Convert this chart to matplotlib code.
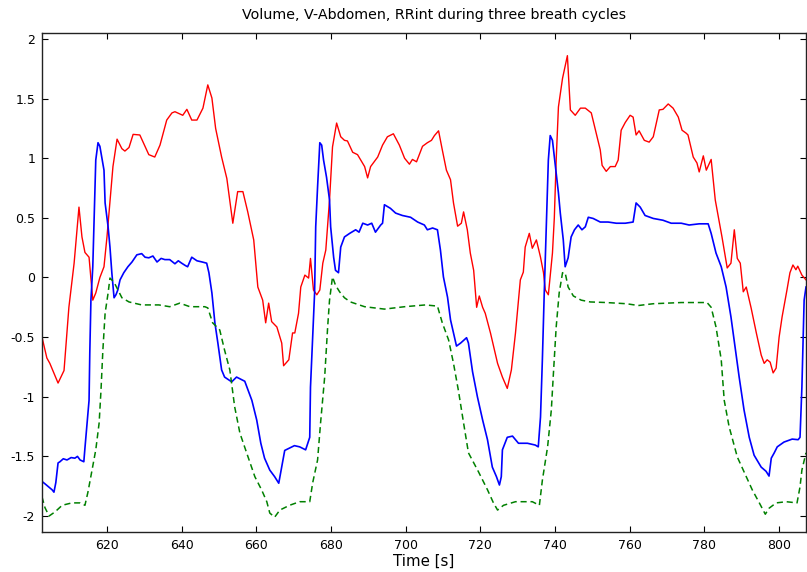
import matplotlib
matplotlib.use("Agg")
import matplotlib.pyplot as plt
from matplotlib.ticker import FuncFormatter

# RRint (red)
t_rr = [602.6, 603.9, 604.7, 606.9, 608.5, 609.8, 611.2, 612.5, 613.3, 614.1, 615.2, 616.2, 617.0, 618.1,
        619.2, 620.0, 621.6, 622.7, 624.0, 624.8, 625.9, 627.0, 628.8, 631.2, 632.8, 634.2, 636.0, 637.4,
        638.2, 640.3, 641.4, 642.7, 644.1, 645.7, 647.0, 648.1, 649.1, 650.7, 652.1, 653.7, 655.0, 656.4,
        657.7, 659.3, 660.4, 661.7, 662.5, 663.3, 664.1, 665.5, 666.8, 667.3, 668.7, 669.7, 670.3, 671.3,
        671.9, 673.0, 674.0, 674.5, 675.3, 676.2, 677.0, 677.8, 678.6, 679.6, 680.4, 681.5, 682.6, 683.6,
        684.4, 685.8, 687.1, 689.0, 689.8, 690.6, 692.5, 693.8, 695.1, 696.7, 698.3, 699.7, 701.0, 701.8,
        702.9, 704.5, 705.8, 706.9, 707.7, 708.8, 709.8, 710.9, 712.0, 712.8, 713.9, 714.9, 715.5, 716.5,
        717.3, 718.2, 719.0, 719.7, 720.6, 721.3, 722.7, 724.6, 725.9, 727.2, 728.3, 729.4, 730.7, 731.5,
        732.0, 733.1, 733.9, 735.0, 736.1, 736.9, 737.4, 738.2, 739.3, 739.8, 740.3, 740.9, 742.0, 743.3,
        744.1, 745.4, 746.8, 748.1, 749.7, 751.0, 752.1, 752.6, 753.7, 754.8, 756.1, 756.9, 757.7, 758.8,
        760.1, 760.9, 761.7, 762.5, 763.9, 765.2, 766.3, 767.9, 768.9, 770.3, 771.6, 773.0, 774.0, 775.1,
        775.6, 777.0, 778.0, 778.6, 779.7, 780.5, 781.8, 782.9, 784.7, 786.1, 787.1, 788.0, 788.8, 789.6,
        790.4, 791.2, 792.5, 793.9, 795.2, 796.0, 796.8, 797.6, 798.4, 799.2, 800.0, 800.8, 802.1, 802.9,
        803.7, 804.5, 805.0, 806.1, 807.2]
rr = [-0.50, -0.675, -0.72, -0.885, -0.78, -0.25, 0.12, 0.59, 0.34, 0.21, 0.17, -0.19, -0.13, 0.0,
      0.09, 0.34, 0.93, 1.16, 1.08, 1.06, 1.09, 1.20, 1.195, 1.03, 1.01, 1.11, 1.32, 1.38,
      1.39, 1.36, 1.41, 1.32, 1.32, 1.42, 1.615, 1.505, 1.25, 1.01, 0.83, 0.455, 0.72, 0.72,
      0.55, 0.315, -0.08, -0.19, -0.38, -0.215, -0.37, -0.415, -0.55, -0.74, -0.69, -0.465, -0.465, -0.30,
      -0.08, 0.02, -0.005, 0.16, -0.105, -0.145, -0.105, 0.12, 0.23, 0.65, 1.095, 1.295, 1.18, 1.15,
      1.145, 1.05, 1.03, 0.93, 0.835, 0.93, 1.01, 1.11, 1.18, 1.205, 1.11, 1.0, 0.95, 0.99,
      0.97, 1.10, 1.13, 1.15, 1.19, 1.23, 1.07, 0.90, 0.82, 0.625, 0.43, 0.455, 0.55, 0.40,
      0.205, 0.06, -0.25, -0.155, -0.25, -0.30, -0.465, -0.72, -0.835, -0.93, -0.775, -0.465, -0.02, 0.045,
      0.255, 0.37, 0.245, 0.315, 0.17, 0.04, -0.105, -0.145, 0.205, 0.50, 0.985, 1.43, 1.67, 1.86,
      1.405, 1.36, 1.42, 1.42, 1.38, 1.21, 1.07, 0.94, 0.89, 0.93, 0.93, 0.985, 1.235, 1.30,
      1.36, 1.345, 1.195, 1.23, 1.15, 1.135, 1.18, 1.405, 1.41, 1.455, 1.42, 1.345, 1.235, 1.21,
      1.195, 1.01, 0.96, 0.885, 1.02, 0.90, 0.99, 0.65, 0.34, 0.08, 0.12, 0.40, 0.16, 0.12,
      -0.12, -0.08, -0.255, -0.465, -0.65, -0.72, -0.69, -0.71, -0.80, -0.76, -0.50, -0.33, -0.105, 0.04,
      0.105, 0.065, 0.095, 0.02, -0.02]

# V-Abdomen (blue)
t_vab = [602.6, 603.4, 605.3, 605.8, 606.3, 606.9, 607.4, 608.3, 609.3, 610.4, 611.4, 612.1, 612.8, 613.8,
         614.1, 614.6, 615.2, 615.4, 615.7, 616.2, 616.5, 616.8, 617.0, 617.6, 618.1, 618.6, 619.2, 619.5,
         620.3, 620.8, 621.3, 621.9, 622.4, 622.9, 623.5, 624.5, 625.6, 626.7, 628.0, 629.3, 630.2, 631.2,
         632.3, 633.4, 634.5, 635.5, 636.8, 638.2, 639.1, 640.0, 641.0, 641.6, 642.7, 644.1, 645.5, 646.7,
         647.3, 648.1, 648.9, 649.7, 650.7, 651.5, 653.4, 654.7, 656.9, 658.8, 660.1, 661.2, 662.2, 663.6,
         664.9, 666.0, 666.8, 667.6, 668.9, 670.2, 671.6, 673.2, 674.3, 674.5, 675.1, 675.6, 675.9, 676.4,
         677.0, 677.5, 678.0, 678.8, 679.6, 679.9, 680.7, 681.2, 682.0, 682.6, 683.6, 685.0, 686.6, 687.5,
         688.5, 689.8, 690.9, 691.9, 693.3, 693.8, 694.3, 695.9, 697.3, 699.1, 701.3, 703.2, 705.0, 705.8,
         707.2, 708.5, 709.3, 710.1, 711.2, 712.0, 712.8, 713.6, 714.7, 716.3, 716.8, 717.9, 719.2, 720.6,
         721.9, 723.2, 724.3, 725.1, 725.6, 725.9, 727.2, 728.6, 730.2, 732.6, 734.7, 735.5, 736.1, 736.6,
         737.1, 737.7, 738.2, 738.7, 739.3, 740.1, 740.9, 741.4, 742.2, 742.7, 743.5, 744.3, 745.2, 746.2,
         747.2, 748.1, 748.9, 750.2, 752.1, 754.2, 756.4, 758.8, 760.9, 761.7, 762.8, 764.1, 766.3, 768.9,
         771.1, 773.8, 775.9, 778.6, 781.0, 781.8, 783.1, 784.5, 785.8, 787.1, 788.2, 789.3, 790.6, 792.0,
         793.3, 795.2, 796.5, 797.3, 797.9, 798.7, 799.5, 801.3, 803.5, 805.1, 805.6, 806.1, 806.7, 807.2]
vab = [-1.71, -1.73, -1.78, -1.80, -1.72, -1.555, -1.545, -1.52, -1.53, -1.51, -1.515, -1.50, -1.53, -1.545,
       -1.43, -1.25, -1.03, -0.63, -0.19, 0.09, 0.425, 0.735, 0.985, 1.13, 1.10, 1.01, 0.90, 0.625,
       0.425, 0.255, 0.04, -0.17, -0.145, -0.105, -0.02, 0.04, 0.09, 0.13, 0.19, 0.20, 0.17, 0.165,
       0.18, 0.13, 0.16, 0.15, 0.15, 0.115, 0.14, 0.12, 0.10, 0.09, 0.17, 0.14, 0.13, 0.12,
       0.04, -0.13, -0.38, -0.55, -0.775, -0.835, -0.875, -0.835, -0.87, -1.03, -1.195, -1.39, -1.515, -1.615,
       -1.67, -1.725, -1.59, -1.45, -1.43, -1.41, -1.42, -1.445, -1.34, -0.92, -0.50, -0.13, 0.425, 0.76,
       1.13, 1.11, 0.985, 0.84, 0.65, 0.425, 0.17, 0.06, 0.04, 0.255, 0.34, 0.37, 0.40, 0.38,
       0.455, 0.44, 0.455, 0.38, 0.44, 0.455, 0.61, 0.58, 0.54, 0.52, 0.505, 0.465, 0.44, 0.40,
       0.415, 0.40, 0.23, 0.005, -0.165, -0.355, -0.465, -0.575, -0.55, -0.505, -0.55, -0.79, -1.0, -1.195,
       -1.36, -1.59, -1.67, -1.74, -1.67, -1.445, -1.34, -1.33, -1.39, -1.39, -1.405, -1.42, -1.17, -0.69,
       -0.13, 0.48, 0.985, 1.19, 1.15, 0.93, 0.71, 0.54, 0.315, 0.09, 0.165, 0.34, 0.40, 0.44,
       0.40, 0.425, 0.505, 0.495, 0.465, 0.465, 0.455, 0.455, 0.465, 0.625, 0.59, 0.52, 0.495, 0.48,
       0.455, 0.455, 0.44, 0.45, 0.45, 0.37, 0.205, 0.09, -0.08, -0.33, -0.58, -0.835, -1.11, -1.34,
       -1.49, -1.59, -1.625, -1.665, -1.515, -1.47, -1.42, -1.38, -1.355, -1.36, -1.34, -0.92, -0.19, -0.08]

# Volume (green, dashed)
t_vol = [602.6, 603.4, 604.5, 606.1, 608.0, 610.6, 612.8, 614.1, 614.9, 616.0, 617.0, 617.9, 618.4, 618.9,
         619.5, 620.3, 620.8, 621.9, 622.7, 624.0, 625.9, 629.3, 633.9, 636.8, 639.5, 642.2, 646.2, 647.0,
         648.3, 650.2, 651.5, 652.9, 654.2, 655.6, 657.4, 659.6, 661.4, 662.8, 663.6, 664.9, 666.3, 668.9,
         671.6, 674.3, 675.1, 676.4, 677.2, 678.3, 679.1, 679.6, 680.4, 681.2, 682.3, 683.6, 685.2, 689.0,
         694.3, 699.7, 705.3, 708.5, 709.8, 711.5, 712.8, 714.1, 715.5, 716.8, 719.5, 721.9, 723.5, 724.6,
         726.2, 729.4, 733.9, 735.8, 736.6, 738.0, 739.0, 739.5, 740.3, 741.1, 742.0, 742.7, 743.5, 744.9,
         747.0, 749.4, 753.7, 759.1, 762.3, 766.3, 773.8, 780.7, 781.8, 783.1, 784.5, 785.3, 786.6, 788.8,
         791.2, 792.8, 794.7, 796.3, 797.3, 799.2, 801.9, 804.8, 805.6, 806.1, 807.2]
vol = [-1.84, -1.93, -2.0, -1.965, -1.91, -1.89, -1.89, -1.91, -1.80, -1.615, -1.445, -1.22, -0.945, -0.61,
       -0.30, -0.13, -0.005, -0.04, -0.09, -0.17, -0.205, -0.23, -0.23, -0.245, -0.215, -0.245, -0.245, -0.255,
       -0.38, -0.44, -0.61, -0.775, -1.085, -1.305, -1.47, -1.67, -1.78, -1.88, -1.975, -2.01, -1.95, -1.91,
       -1.88, -1.88, -1.72, -1.53, -1.22, -0.835, -0.415, -0.19, 0.005, -0.065, -0.12, -0.17, -0.205, -0.245,
       -0.265, -0.245, -0.23, -0.24, -0.38, -0.525, -0.72, -0.945, -1.22, -1.47, -1.63, -1.78, -1.89, -1.95,
       -1.91, -1.88, -1.88, -1.91, -1.70, -1.42, -1.11, -0.835, -0.415, -0.13, 0.04, 0.04, -0.08, -0.155,
       -0.19, -0.205, -0.21, -0.22, -0.235, -0.22, -0.21, -0.21, -0.25, -0.415, -0.69, -1.03, -1.25, -1.505,
       -1.67, -1.78, -1.89, -1.985, -1.935, -1.89, -1.88, -1.89, -1.755, -1.615, -1.47]

title = "Volume, V-Abdomen, RRint during three breath cycles"
xlabel = "Time [s]"
xticks = [620, 640, 660, 680, 700, 720, 740, 760, 780, 800]
yticks = [-2, -1.5, -1, -0.5, 0, 0.5, 1, 1.5, 2]

plt.rcParams['font.family'] = ['DejaVu Sans']
plt.rcParams['axes.unicode_minus'] = False

fig = plt.figure(figsize=(8.07, 5.72), dpi=100)
ax = fig.add_axes([42/807, 40/572, 764/807, 499/572])

ax.plot(t_rr, rr, color=(1, 0, 0), lw=1.0)
ax.plot(t_vab, vab, color=(0, 0, 1), lw=1.2)
ax.plot(t_vol, vol, color=(0, 0.5, 0), lw=1.1, ls=(0, (4, 2.5)))

ax.set_xlim(602.6, 807.2)
ax.set_ylim(-2.134, 2.05)
ax.set_xticks(xticks)
ax.set_yticks(yticks)
ax.yaxis.set_major_formatter(FuncFormatter(lambda v, p: f"{v:g}"))
ax.tick_params(direction='in', length=4, width=0.8, top=True, right=True, labelsize=9, colors='black', pad=5)
for s in ax.spines.values():
    s.set_linewidth(1.0)
    s.set_color('#222222')
ax.set_title(title, fontsize=10.3, pad=10, x=0.513)
ax.set_xlabel(xlabel, fontsize=10.8, labelpad=1)

fig.savefig("out.png", dpi=100)
